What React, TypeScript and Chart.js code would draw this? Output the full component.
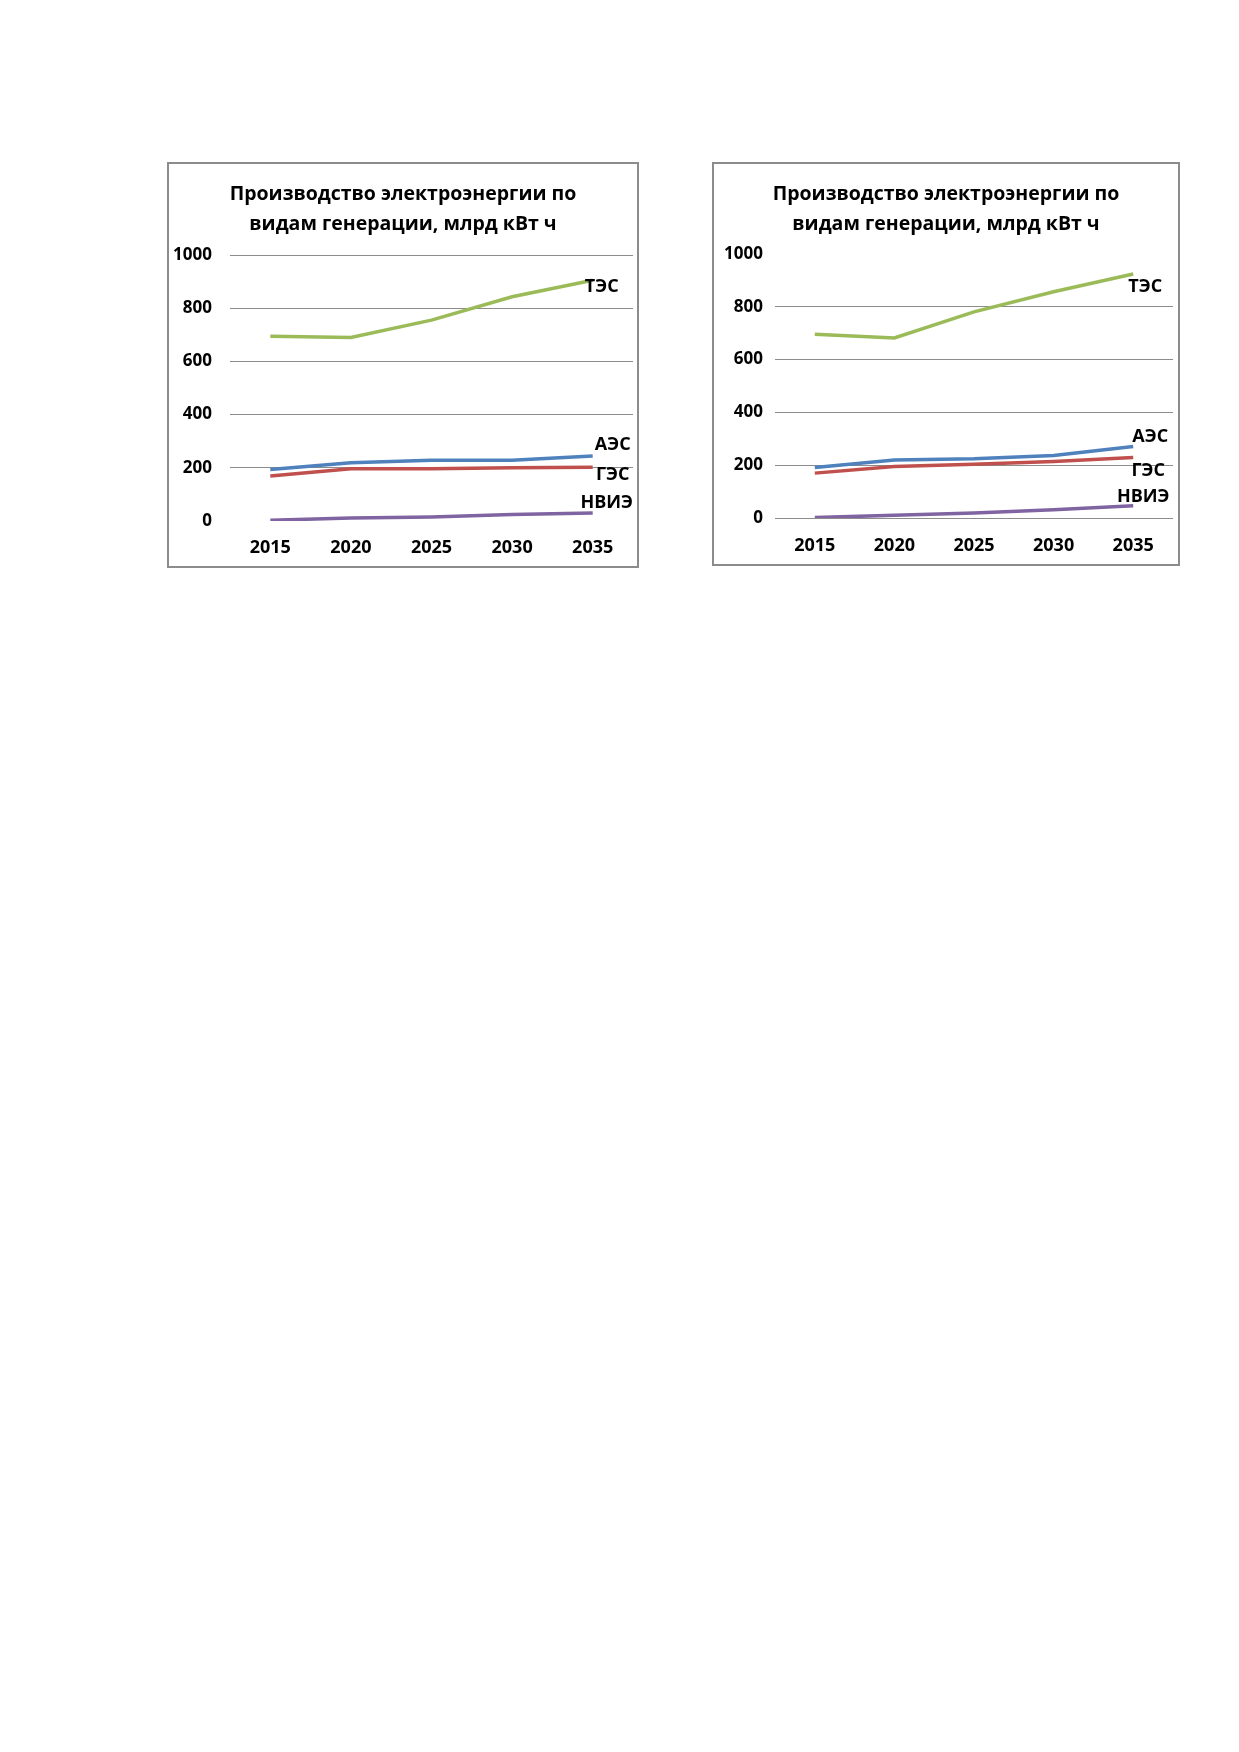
import { useEffect, useRef } from 'react'
import { Chart, registerables } from 'chart.js'
import type { Plugin } from 'chart.js'

Chart.register(...registerables)

const YEARS = ['2015', '2020', '2025', '2030', '2035']
const SERIES_NAMES = ['ТЭС', 'АЭС', 'ГЭС', 'НВИЭ']
const Y_TICKS = [0, 200, 400, 600, 800, 1000]
const TITLE_LINES = ['Производство электроэнергии по', 'видам генерации, млрд кВт ч']

// left chart
const LEFT_TES = [695, 690, 755, 843, 905]
const LEFT_AES = [194, 219, 228, 228, 244]
const LEFT_GES = [169, 196, 196, 200, 202]
const LEFT_NVIE = [3, 11, 15, 24, 30]

// right chart
const RIGHT_TES = [696, 682, 781, 857, 924]
const RIGHT_AES = [191, 220, 224, 237, 271]
const RIGHT_GES = [170, 195, 204, 214, 229]
const RIGHT_NVIE = [2, 10, 19, 31, 46]

const SERIES_COLORS = ['#9bbb59', '#4f81bd', '#c0504d', '#8064a2']
const FONT = "'Open Sans', sans-serif"

type Layout = {
  left: number
  top: number
  width: number
  height: number
  padTop: number
  padRight: number
  yWidth: number
  xHeight: number
  yTickPad: number
  xTickPad: number
  hiddenGrid: number
  labelOffsets: [number, number][]
}

const LEFT_LAYOUT: Layout = {
  left: 167,
  top: 162,
  width: 472,
  height: 406,
  padTop: 91,
  padRight: 4,
  yWidth: 61,
  xHeight: 45,
  yTickPad: 18,
  xTickPad: 16,
  hiddenGrid: 0,
  labelOffsets: [
    [9, 7],
    [20, -11],
    [20, 8],
    [14, -10],
  ],
}

const RIGHT_LAYOUT: Layout = {
  left: 712,
  top: 162,
  width: 468,
  height: 404,
  padTop: 90,
  padRight: 5,
  yWidth: 61,
  xHeight: 46,
  yTickPad: 12,
  xTickPad: 17,
  hiddenGrid: 1000,
  labelOffsets: [
    [12, 13],
    [17, -10],
    [15, 13],
    [10, -9],
  ],
}

function makeEndLabels(offsets: [number, number][]): Plugin<'line'> {
  return {
    id: 'endLabels',
    afterDatasetsDraw(chart) {
      const ctx = chart.ctx
      ctx.save()
      ctx.font = `bold 18px ${FONT}`
      ctx.fillStyle = '#000'
      ctx.textAlign = 'center'
      ctx.textBaseline = 'middle'
      chart.data.datasets.forEach((ds, i) => {
        const meta = chart.getDatasetMeta(i)
        const last = meta.data[meta.data.length - 1]
        if (!last) return
        const [dx, dy] = offsets[i]
        ctx.fillText(String(ds.label), last.x + dx, last.y + dy)
      })
      ctx.restore()
    },
  }
}

function GenerationChart({ series, layout }: { series: number[][]; layout: Layout }) {
  const canvasRef = useRef<HTMLCanvasElement>(null)
  const chartRef = useRef<Chart<'line'> | null>(null)
  const innerW = layout.width - 4
  const innerH = layout.height - 4

  useEffect(() => {
    const canvas = canvasRef.current
    if (!canvas) return
    chartRef.current?.destroy()

    chartRef.current = new Chart(canvas, {
      type: 'line',
      data: {
        labels: YEARS,
        datasets: series.map((values, i) => ({
          label: SERIES_NAMES[i],
          data: values,
          borderColor: SERIES_COLORS[i],
          backgroundColor: SERIES_COLORS[i],
          borderWidth: 3.5,
          pointRadius: 0,
          tension: 0,
          fill: false,
        })),
      },
      options: {
        responsive: false,
        animation: false,
        events: [],
        layout: { padding: { top: layout.padTop, right: layout.padRight, left: 0, bottom: 0 } },
        plugins: {
          legend: { display: false },
          tooltip: { enabled: false },
          title: { display: false },
        },
        scales: {
          x: {
            type: 'category',
            offset: true,
            grid: { display: false, drawTicks: false },
            border: { display: false },
            ticks: {
              color: '#000',
              font: { family: FONT, size: 18, weight: 'bold' },
              padding: layout.xTickPad,
              maxRotation: 0,
              autoSkip: false,
            },
            afterFit: (scale) => {
              scale.height = layout.xHeight
            },
          },
          y: {
            min: 0,
            max: 1000,
            grid: {
              drawTicks: false,
              color: (ctx) => (ctx.tick && ctx.tick.value === layout.hiddenGrid ? 'rgba(0,0,0,0)' : '#8c8c8c'),
              lineWidth: 1,
            },
            border: { display: false },
            ticks: {
              color: '#000',
              font: { family: FONT, size: 17, weight: 'bold' },
              padding: layout.yTickPad,
              callback: (v) => String(v),
            },
            afterBuildTicks: (scale) => {
              scale.ticks = Y_TICKS.map((v) => ({ value: v }))
            },
            afterFit: (scale) => {
              scale.width = layout.yWidth
            },
          },
        },
      },
      plugins: [makeEndLabels(layout.labelOffsets)],
    })

    return () => {
      chartRef.current?.destroy()
      chartRef.current = null
    }
  }, [series, layout])

  return (
    <div
      style={{
        position: 'absolute',
        left: layout.left,
        top: layout.top,
        width: layout.width,
        height: layout.height,
        border: '2px solid #8c8c8c',
        boxSizing: 'border-box',
        background: '#fff',
      }}
    >
      <canvas ref={canvasRef} width={innerW} height={innerH} style={{ position: 'absolute', left: 0, top: 0 }} />
      <div
        style={{
          position: 'absolute',
          left: 0,
          top: 14,
          width: innerW,
          textAlign: 'center',
          fontFamily: FONT,
          fontWeight: 'bold',
          fontSize: 19.5,
          lineHeight: '30px',
          color: '#000',
        }}
      >
        {TITLE_LINES.map((line) => (
          <div key={line}>{line}</div>
        ))}
      </div>
    </div>
  )
}

const LEFT_SERIES = [LEFT_TES, LEFT_AES, LEFT_GES, LEFT_NVIE]
const RIGHT_SERIES = [RIGHT_TES, RIGHT_AES, RIGHT_GES, RIGHT_NVIE]

export default function App() {
  return (
    <div style={{ position: 'absolute', left: 0, top: 0, width: 1239, height: 1752, background: '#fff' }}>
      <GenerationChart series={LEFT_SERIES} layout={LEFT_LAYOUT} />
      <GenerationChart series={RIGHT_SERIES} layout={RIGHT_LAYOUT} />
    </div>
  )
}
